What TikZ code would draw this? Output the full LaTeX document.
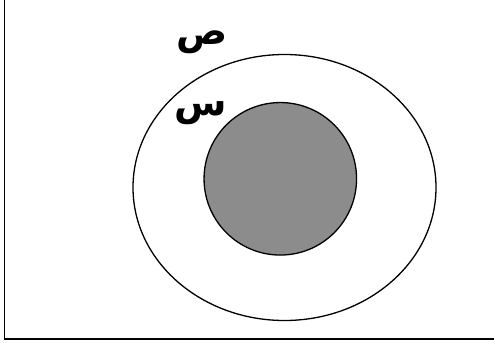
\documentclass[tikz,border=0pt]{standalone}
\usepackage{fontspec}
\usetikzlibrary{shapes.geometric}
\newfontfamily\arabicfont[Script=Arabic]{DejaVu Sans}
\TeXXeTstate=1
\begin{document}
\begin{tikzpicture}[x=1pt,y=-1pt,
  lbl/.style={font=\arabicfont\bfseries\fontsize{38}{44}\selectfont, inner sep=0pt},
  ring/.style={draw=black, line width=1.3pt}]
\useasboundingbox (0,0) rectangle (494,342);
\coordinate (tl) at (4.5,-2);
\coordinate (bl) at (4.5,339);
\coordinate (br) at (496,339);
\draw[line width=1.5pt] (tl) -- (bl) -- (br);
\node[ring, ellipse, minimum width=303pt, minimum height=266pt, inner sep=0pt] (Y) at (284.5,187.5) {};
\node[ring, circle, fill=black!45, minimum size=152.5pt, inner sep=0pt] (X) at (280.3,178.8) {};
\node[lbl] (ly) at (202,42) {\beginR ص\endR};
\node[lbl] (lx) at (201,113) {\beginR س\endR};
\end{tikzpicture}
\end{document}
